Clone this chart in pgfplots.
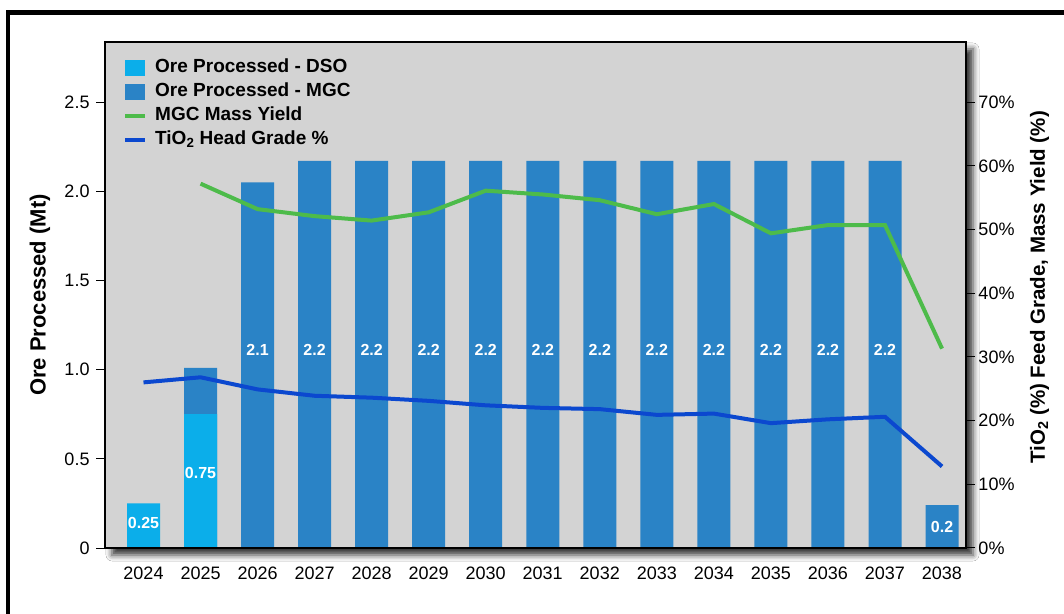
\documentclass[border=0pt]{standalone}
\usepackage{fontspec}
\setmainfont{Liberation Sans}
\usepackage{pgfplots}
\usepackage{pgfplotstable}
\pgfplotsset{compat=1.18}
\usetikzlibrary{shadows.blur}

\definecolor{dso}{HTML}{0BAEEA}
\definecolor{mgc}{HTML}{2A83C6}
\definecolor{yieldgreen}{HTML}{4DBB4A}
\definecolor{gradeblue}{HTML}{0B48CF}
\definecolor{panel}{HTML}{D3D3D3}

% ore processed (Mt); mgc column is the top of the bar (2025: 0.75 DSO + 0.26 MGC)
\pgfplotstableread{
year dso  mgctop
2024 0.25 nan
2025 0.75 1.01
2026 nan  2.05
2027 nan  2.17
2028 nan  2.17
2029 nan  2.17
2030 nan  2.17
2031 nan  2.17
2032 nan  2.17
2033 nan  2.17
2034 nan  2.17
2035 nan  2.17
2036 nan  2.17
2037 nan  2.17
2038 nan  0.24
}\oretable

% bar value labels (position in Mt, text)
\pgfplotstableread{
year pos  label
2024 0.14 0.25
2025 0.42 0.75
2026 1.11 2.1
2027 1.11 2.2
2028 1.11 2.2
2029 1.11 2.2
2030 1.11 2.2
2031 1.11 2.2
2032 1.11 2.2
2033 1.11 2.2
2034 1.11 2.2
2035 1.11 2.2
2036 1.11 2.2
2037 1.11 2.2
2038 0.12 0.2
}\labeltable

% mass yield and head grade (%)
\pgfplotstableread{
year yield grade
2024 nan  26.0
2025 57.2 26.8
2026 53.2 24.9
2027 52.1 23.9
2028 51.4 23.6
2029 52.7 23.1
2030 56.1 22.4
2031 55.5 22.0
2032 54.6 21.8
2033 52.4 20.9
2034 54.0 21.1
2035 49.4 19.6
2036 50.7 20.2
2037 50.7 20.6
2038 31.3 12.8
}\linetable

\pgfplotsset{
  common/.style={
    scale only axis, width=861bp, height=506bp,
    at={(105bp,66bp)}, anchor=south west,
    xmin=2023.325, xmax=2038.42,
    tick align=outside, major tick length=9bp,
    tick style={black, line width=1bp},
    axis line style={line width=2bp},
    tick label style={font=\fontsize{18bp}{21bp}\selectfont},
    /pgf/number format/assume math mode=true,
  },
  sqlegend/.style={legend image code/.code={\fill[##1, draw=none] (0bp,-8bp) rectangle (20bp,8bp);}},
  lnlegend/.style={legend image code/.code={\draw[##1] (0bp,0bp) -- (20bp,0bp);}},
}

\begin{document}
\begin{tikzpicture}
\useasboundingbox (0,0) rectangle (1064bp,614bp);
\fill[white] (0,0) rectangle (1064bp,614bp);
\draw[line width=4.5bp] (8bp,-5bp) -- (8bp,601.5bp) -- (1070bp,601.5bp);

\begin{axis}[common,
  ymin=0, ymax=2.837,
  ytick={0,0.5,...,2.5},
  yticklabels={0,0.5,1.0,1.5,2.0,2.5},
  yticklabel style={xshift=-3bp},
  ytick pos=left,
  xtick={2024,...,2038},
  xtick pos=bottom,
  xtick style={draw=none},
  xticklabel style={/pgf/number format/1000 sep={}, yshift=-6bp},
  axis on top,
  axis background/.style={fill=panel,
    blur shadow={shadow xshift=7bp, shadow yshift=-7bp, shadow blur radius=6bp, shadow opacity=80}},
  ylabel={Ore Processed (Mt)},
  every axis y label/.style={at={(axis description cs:-0.0755,0.5)}, rotate=90, anchor=center,
    font=\fontsize{22bp}{26bp}\selectfont\bfseries},
]
\addplot[ybar, bar width=33bp, bar shift=0pt, fill=mgc, draw=none] table[x=year, y=mgctop] {\oretable};
\addplot[ybar, bar width=33bp, bar shift=0pt, fill=dso, draw=none] table[x=year, y=dso] {\oretable};
\addplot[draw=none, mark=none, nodes near coords, point meta=explicit symbolic,
  nodes near coords style={anchor=center, text=white, font=\fontsize{16bp}{18bp}\selectfont\bfseries}]
  table[x=year, y=pos, meta=label] {\labeltable};
\end{axis}

\begin{axis}[common,
  axis x line=none,
  axis y line*=right,
  ymin=0, ymax=79.44,
  ytick={0,10,...,70},
  yticklabel={\pgfmathprintnumber{\tick}\%},
  ylabel={TiO\textsubscript{2} (\%) Feed Grade, Mass Yield (\%)},
  every axis y label/.style={at={(axis description cs:1.0855,0.515)}, rotate=90, anchor=center,
    font=\fontsize{20.5bp}{24bp}\selectfont\bfseries},
  legend style={at={(axis description cs:0.0209,0.968)}, anchor=north west,
    draw=none, fill=none, inner sep=0pt, row sep=4.5bp,
    font=\fontsize{19bp}{22bp}\selectfont\bfseries,
    nodes={inner sep=1bp, text height=13.5bp, text depth=4bp},
    /tikz/every odd column/.style={column sep=7bp}},
  legend cell align=left,
]
\addlegendimage{sqlegend, fill=dso}
\addlegendimage{sqlegend, fill=mgc}
\addplot[lnlegend, yieldgreen, line width=4bp, mark=none] table[x=year, y=yield] {\linetable};
\addplot[lnlegend, gradeblue, line width=4bp, mark=none] table[x=year, y=grade] {\linetable};
\legend{Ore Processed - DSO, Ore Processed - MGC, MGC Mass Yield, TiO\textsubscript{2} Head Grade \%}
\end{axis}
\end{tikzpicture}
\end{document}
